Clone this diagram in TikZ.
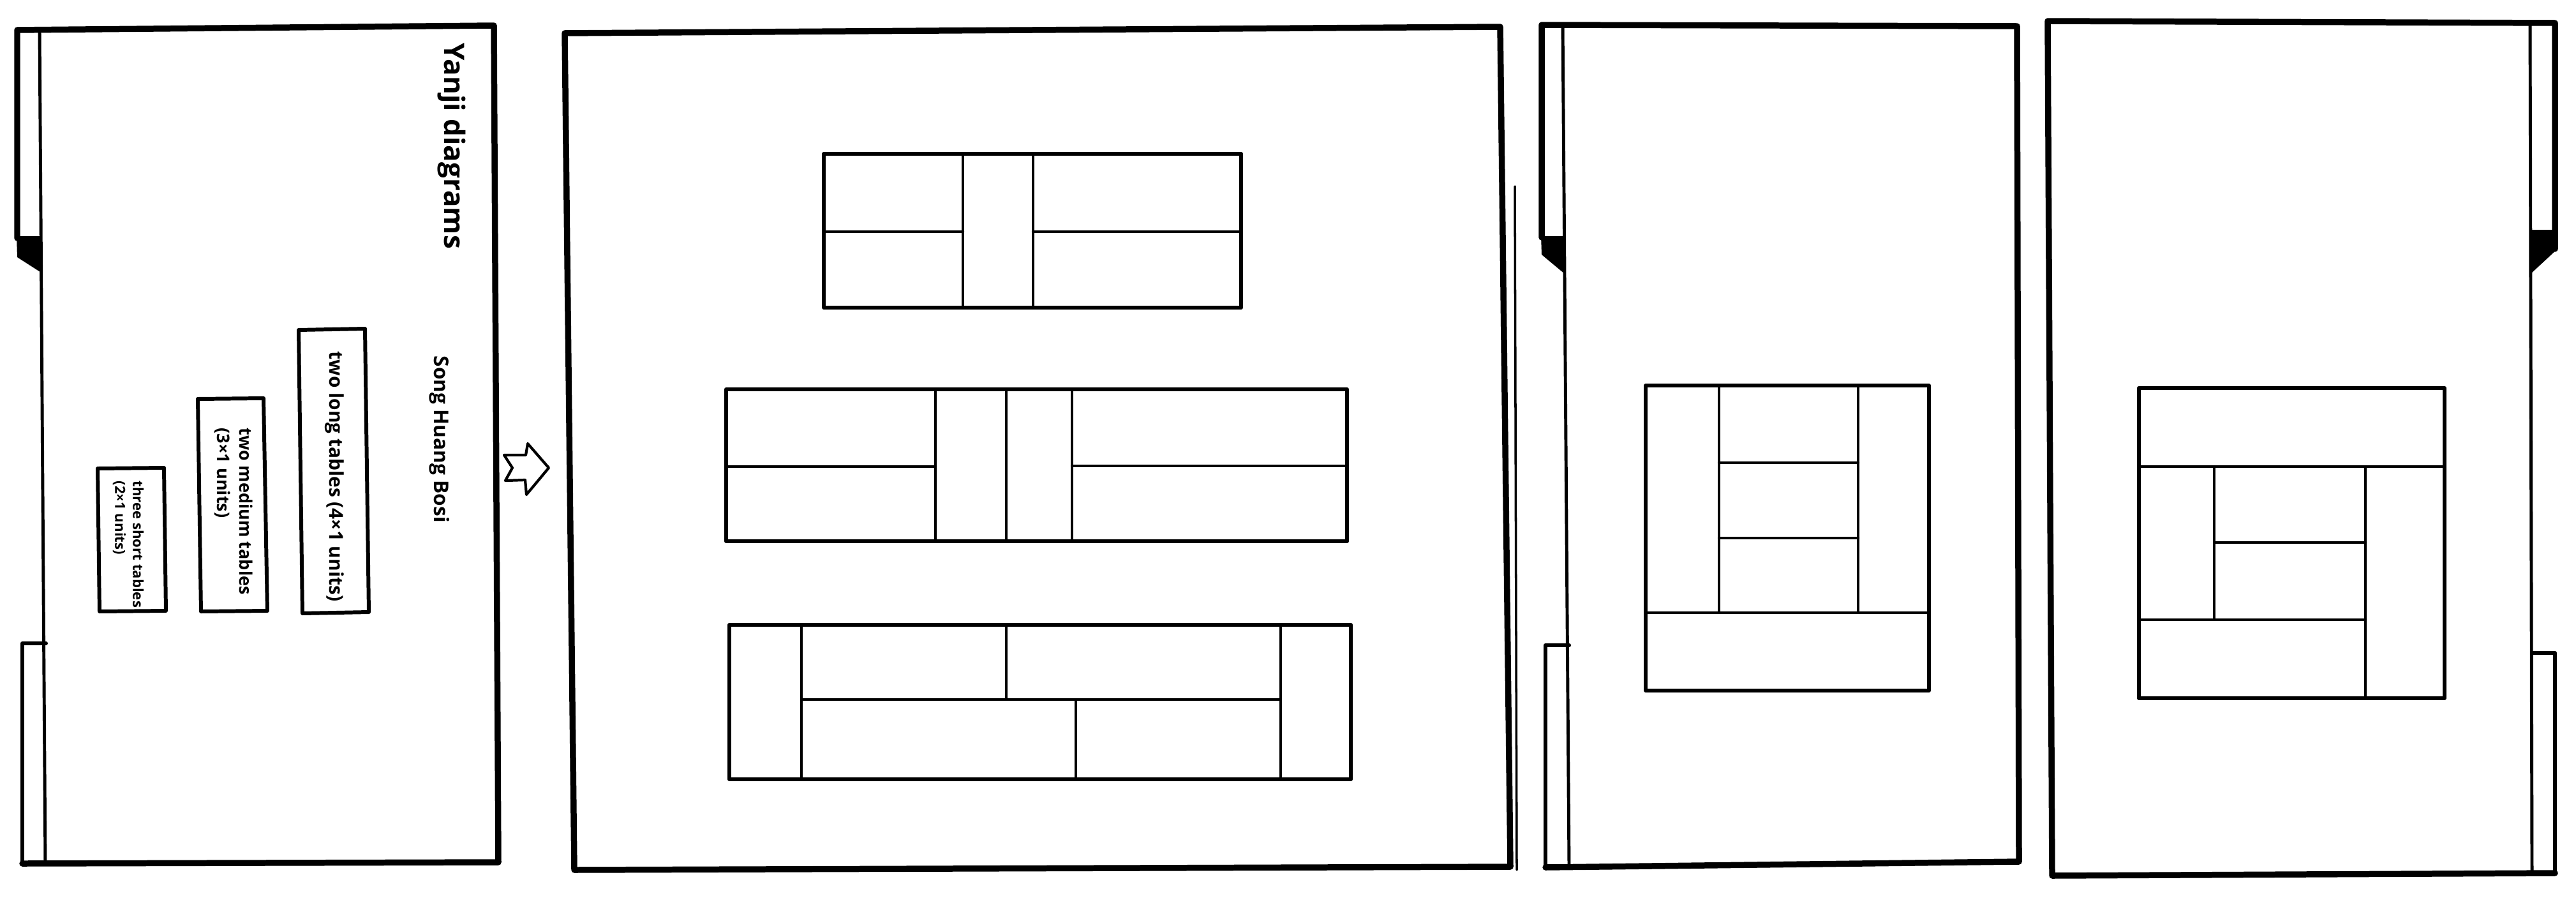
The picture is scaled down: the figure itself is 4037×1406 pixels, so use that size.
\documentclass[tikz,border=0pt]{standalone}
\usepackage{fontspec}
\setmainfont{Open Sans}
\begin{document}
\begin{tikzpicture}[x=0.01cm,y=-0.01cm, line join=round, line cap=round,
  frame/.style={line width=2.7pt},
  tabline/.style={line width=1.7pt},
  thinline/.style={line width=1.4pt},
  outerbox/.style={line width=1.7pt},
  innerline/.style={line width=1.25pt},
  lbl/.style={rotate=-90, anchor=west, inner sep=0pt, align=left}]
\useasboundingbox[fill=white] (0,0) rectangle (4037,1406);

% ---------- Panel 1 ----------
\draw[frame] (27,373) -- (27,47) -- (774,40) -- (781,1351) -- (35,1353);
\draw[tabline] (35,1353) -- (35,1008) -- (72,1008);
\draw[thinline] (62,47) -- (71,1353);
\fill (26,370) -- (65,370) -- (66,428) -- (27,403) -- cycle;

\draw[outerbox] (468,517) -- (572,515) -- (578,959) -- (474,961) -- cycle;
\draw[outerbox] (310,625) -- (413,624) -- (419,957) -- (315,958) -- cycle;
\draw[outerbox] (153,734) -- (257,733) -- (260,957) -- (156,958) -- cycle;

\node[lbl, font=\bfseries\fontsize{12.5}{14}\selectfont] (title) at (708,67) {Yanji diagrams};
\node[lbl, font=\bfseries\fontsize{9}{10}\selectfont] (author) at (689,557) {Song Huang Bosi};
\node[lbl, font=\bfseries\fontsize{8.5}{10}\selectfont] (longlbl) at (524,550) {two long tables (4×1 units)};
\node[lbl, font=\bfseries\fontsize{7.7}{10}\selectfont] (medlbl) at (366,670) {two medium tables\\(3×1 units)};
\node[lbl, font=\bfseries\fontsize{6.3}{8}\selectfont] (shortlbl) at (201,753) {three short tables\\(2×1 units)};

% arrow
\draw[line width=1.2pt] (790,713) -- (824,713) -- (827,695) -- (860,733) -- (825,775) -- (823,752) -- (792,753) -- (803,733) -- cycle;

% ---------- Panel 2 ----------
\draw[frame] (885,52) -- (2351,42) -- (2367,1358) -- (900,1363) -- cycle;
\draw[line width=1pt] (2374,292) -- (2377,1363);

\draw[outerbox] (1291,241) rectangle (1945,482);
\draw[innerline] (1509,241) -- (1509,482) (1619,241) -- (1619,482)
  (1291,363) -- (1509,363) (1619,363) -- (1945,363);

\draw[outerbox] (1138,610) rectangle (2111,848);
\draw[innerline] (1466,610) -- (1466,848) (1577,610) -- (1577,848) (1680,610) -- (1680,848)
  (1138,731) -- (1466,731) (1680,730) -- (2111,730);

\draw[outerbox] (1143,979) rectangle (2117,1221);
\draw[innerline] (1256,979) -- (1256,1221) (2007,979) -- (2007,1221)
  (1256,1096) -- (2007,1096) (1577,979) -- (1577,1096) (1686,1096) -- (1686,1221);

% ---------- Panel 3 ----------
\draw[frame] (2416,372) -- (2416,39) -- (3161,41) -- (3164,1350) -- (2422,1359);
\draw[tabline] (2422,1359) -- (2422,1011) -- (2459,1011);
\draw[thinline] (2449,39) -- (2459,1359);
\fill (2415,370) -- (2451,370) -- (2452,429) -- (2416,399) -- cycle;

\draw[outerbox] (2579,604) rectangle (3023,1082);
\draw[innerline] (2694,604) -- (2694,960) (2912,604) -- (2912,960) (2579,960) -- (3023,960)
  (2694,725) -- (2912,725) (2694,843) -- (2912,843);

% ---------- Panel 4 ----------
\draw[frame] (4004,390) -- (4004,36) -- (3209,33) -- (3216,1372) -- (4004,1368);
\draw[tabline] (4004,1368) -- (4004,1023) -- (3968,1023);
\draw[thinline] (3965,36) -- (3968,1368);
\fill (3965,360) -- (4008,360) -- (4008,390) -- (3967,428) -- cycle;

\draw[outerbox] (3352,608) rectangle (3831,1094);
\draw[innerline] (3352,731) -- (3831,731) (3470,731) -- (3470,971) (3707,731) -- (3707,1094)
  (3352,971) -- (3707,971) (3470,850) -- (3707,850);
\end{tikzpicture}
\end{document}
